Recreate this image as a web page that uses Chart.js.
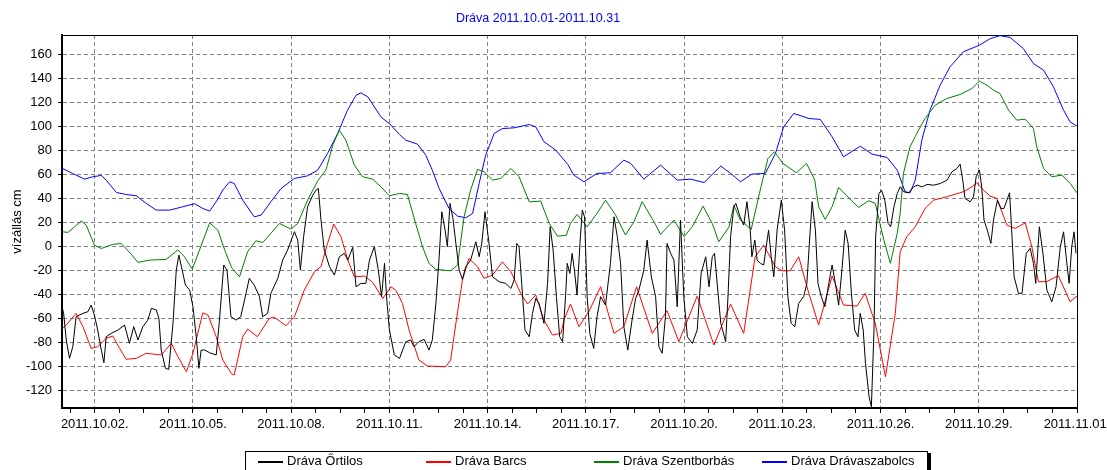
<!DOCTYPE html>
<html>
<head>
<meta charset="utf-8">
<title>Dráva 2011.10.01-2011.10.31</title>
<script src="https://cdn.jsdelivr.net/npm/chart.js@4.4.1/dist/chart.umd.min.js"></script>
<style>
  html, body { margin: 0; padding: 0; background: #fff; }
  #wrap { position: relative; width: 1107px; height: 470px; overflow: hidden;
          font-family: "Liberation Sans", Arial, sans-serif; }
  #chart { position: absolute; left: 0; top: 0; }
  #title { position: absolute; left: 0; top: 11px; width: 1076px; text-align: center;
           color: #0000ff; font-size: 12.5px; }
  #legend { position: absolute; left: 245px; top: 451px; width: 681px; height: 18px;
            border: 1px solid #000; box-shadow: 3px 2px 0 #000; background: #fff;
            font-size: 13px; white-space: nowrap; }
  #legend .item { position: absolute; top: 0; height: 18px; line-height: 18px; }
  #legend .swatch { position: absolute; left: 0; top: 9px; width: 25px; height: 0;
                    border-top: 2px solid transparent; }
  #legend .name { position: absolute; left: 29px; top: 0; }
</style>
</head>
<body>
<div id="wrap">
  <canvas id="chart" width="1107" height="470"></canvas>
  <div id="title">Dráva 2011.10.01-2011.10.31</div>
  <div id="legend"></div>
</div>
<script>
// napok 2011.10.01 00:00 óta, vízállás cm
const ortilos = [
  [0, -50.6], [0.05, -56], [0.13, -78.3], [0.23, -93.6], [0.33, -83.9], [0.43, -58.9], [0.64, -56.1],
  [0.79, -54.7], [0.89, -49.2], [0.99, -57.5], [1.09, -70], [1.2, -86.7], [1.28, -97.2], [1.35, -75.6],
  [1.5, -72.8], [1.71, -70], [1.91, -65.8], [2.06, -81.1], [2.19, -67.2], [2.32, -78.3], [2.47, -67.2],
  [2.62, -61.7], [2.73, -51.9], [2.88, -53.3], [2.96, -60.3], [3.03, -86.7], [3.16, -101.9], [3.26, -102.8],
  [3.39, -64.4], [3.49, -20], [3.57, -7.5], [3.67, -20], [3.77, -32.5], [3.9, -36.7], [4.0, -50.6],
  [4.1, -75.6], [4.18, -101.9], [4.25, -86.7], [4.36, -86.7], [4.51, -88.9], [4.71, -90.8], [4.81, -61.7],
  [4.94, -15.8], [5.04, -20], [5.16, -58.9], [5.31, -61.7], [5.46, -58.9], [5.62, -39.4], [5.72, -26.9],
  [5.87, -32.5], [6.03, -42.2], [6.13, -58.9], [6.28, -56.1], [6.38, -39.4], [6.59, -26.9], [6.74, -11.7],
  [6.89, -3.3], [7.1, 12], [7.2, 5], [7.28, -20], [7.38, 7.8], [7.5, 32.8], [7.66, 42.5], [7.76, 46.7],
  [7.83, 48], [7.91, 21.7], [8.01, -3.3], [8.17, -17.2], [8.32, -24.2], [8.47, -8.9], [8.62, -6.1],
  [8.73, -11.7], [8.88, -1.1], [8.98, -33.9], [9.13, -31.1], [9.28, -31.1], [9.39, -11.7], [9.54, -0.5],
  [9.66, -20], [9.76, -42.2], [9.85, -14.4], [9.92, -45], [10.0, -70], [10.15, -90.8], [10.31, -93.6],
  [10.5, -79.7], [10.65, -78.3], [10.75, -83.9], [10.9, -79.7], [11.06, -77.8], [11.21, -86.7], [11.31, -78.3],
  [11.42, -47.8], [11.52, -8.9], [11.6, 28.6], [11.7, 13.3], [11.77, -0.5], [11.85, 35.6], [11.94, 23.1],
  [12.03, 2.2], [12.13, -20], [12.23, -27.8], [12.33, -17.2], [12.48, -11.7], [12.64, 3.6], [12.74, -8.9],
  [12.82, 2.2], [12.92, 28.6], [13.03, 5], [13.15, -25.6], [13.35, -29.7], [13.55, -31.1], [13.71, -35.3],
  [13.81, -28.3], [13.89, 2.2], [13.96, -0.5], [14.04, -31.1], [14.14, -70], [14.27, -75.6], [14.37, -56.1],
  [14.47, -43.6], [14.57, -47.8], [14.72, -64.4], [14.83, -31.1], [14.91, 16.1], [15.0, -3.3], [15.1, -42.2],
  [15.2, -75.6], [15.29, -79.7], [15.39, -36.7], [15.43, -14.4], [15.51, -22.8], [15.58, -6.1], [15.65, -20],
  [15.73, -40.8], [15.82, 2.2], [15.89, 30], [15.96, 24.4], [16.04, -42.2], [16.12, -72.8], [16.24, -85.3],
  [16.34, -58.9], [16.45, -42.2], [16.6, -49.2], [16.75, -14.4], [16.86, 24.4], [16.96, 7.8], [17.06, -14.4],
  [17.16, -67.2], [17.28, -86.7], [17.41, -61.7], [17.52, -43.6], [17.62, -36.7], [17.77, -20], [17.87, 5],
  [18.0, -25.6], [18.13, -42.2], [18.23, -83.9], [18.33, -89.4], [18.43, -58.9], [18.48, 2.2], [18.59, -6.1],
  [18.69, -11.7], [18.79, -50.6], [18.89, 21.7], [18.99, -42.2], [19.1, -75.6], [19.25, -81.1], [19.4, -70],
  [19.52, -22.8], [19.66, -8.9], [19.76, -33.9], [19.86, -8.9], [19.93, -6.1], [20.01, -31.1], [20.12, -64.4],
  [20.27, -79.7], [20.34, -42.2], [20.42, 7.8], [20.52, 32.8], [20.58, 35.6], [20.71, 24.4], [20.82, 17.5],
  [20.92, 37], [21.02, 13.3], [21.07, -8.9], [21.16, 5], [21.23, -11.7], [21.33, -14.4], [21.43, -15.8],
  [21.58, 13.3], [21.66, -8.9], [21.74, -25.6], [21.84, 13.3], [21.97, 38.3], [22.07, 13.3], [22.17, -42.2],
  [22.27, -64.4], [22.38, -67.2], [22.5, -47.8], [22.65, -42.2], [22.75, -31.1], [22.82, -0.5], [22.91, 37],
  [23.01, 13.3], [23.09, -31.1], [23.19, -42.2], [23.3, -50.6], [23.42, -31.1], [23.52, -15.8], [23.62, -31.1],
  [23.72, -49.2], [23.82, -20], [23.92, 13.3], [24.01, 2.2], [24.11, -39.4], [24.21, -70], [24.31, -75.6],
  [24.38, -56.1], [24.47, -70], [24.54, -97.8], [24.65, -125.6], [24.72, -133.9], [24.8, -70], [24.85, 7.8],
  [24.95, 43.9], [25.03, 46.7], [25.13, 38.3], [25.23, 18.9], [25.31, 16.1], [25.41, 32.8], [25.51, 43.9],
  [25.6, 49.4], [25.71, 45.3], [25.86, 44.4], [26.01, 49.4], [26.12, 50.8], [26.27, 49.4], [26.42, 51.4],
  [26.62, 50.8], [26.83, 52.2], [27.03, 55], [27.18, 61.9], [27.33, 64.7], [27.43, 68.3], [27.51, 55],
  [27.58, 39.7], [27.74, 36.9], [27.84, 41.1], [27.92, 57.8], [28.02, 63.3], [28.09, 49.4], [28.16, 21.7],
  [28.26, 13.3], [28.37, 2.2], [28.45, 21.7], [28.57, 38.3], [28.68, 31.4], [28.77, 31.4], [28.86, 38.3],
  [28.94, 44.4], [29.01, 10.6], [29.08, -25.6], [29.21, -39.4], [29.32, -39.4], [29.45, -6.1], [29.57, -1.9],
  [29.67, -14.4], [29.74, -31.1], [29.85, 16.1], [29.96, -6.1], [30.08, -36.7], [30.23, -46.4], [30.36, -33.9],
  [30.49, -0.6], [30.59, 11.9], [30.69, -14.4], [30.76, -31.1], [30.84, -0.6], [30.91, 11.9], [30.97, -6.1]
];

const barcs = [
  [0, -69.2], [0.13, -65.8], [0.43, -56.1], [0.64, -67.2], [0.89, -85.3], [1.09, -83.9], [1.35, -76.9],
  [1.55, -75], [1.76, -85.3], [1.96, -94.4], [2.27, -93.6], [2.57, -89.4], [3.03, -90.8], [3.34, -81.1],
  [3.54, -92.2], [3.8, -104.7], [4.0, -89.4], [4.3, -55.6], [4.46, -57.5], [4.71, -75.6], [4.91, -95],
  [5.18, -106.5], [5.26, -107.5], [5.52, -75.6], [5.67, -69.2], [5.97, -75.6], [6.33, -60.3], [6.49, -59.4],
  [6.84, -66.4], [7.1, -58.9], [7.4, -36.7], [7.71, -21.4], [7.91, -17.2], [8.11, 2.2], [8.3, 18.3],
  [8.52, 7.8], [8.73, -11.7], [8.93, -25.6], [9.24, -25], [9.49, -30.3], [9.8, -43.6], [10.05, -33.9],
  [10.2, -37], [10.4, -47.8], [10.6, -70], [10.9, -95], [11.16, -100], [11.72, -100.6], [11.87, -95],
  [12.03, -64.4], [12.23, -28.3], [12.43, -10.3], [12.69, -17.2], [12.89, -26.9], [13.15, -24.2],
  [13.45, -13.1], [13.71, -21.4], [14.01, -39.4], [14.22, -48.3], [14.47, -40.8], [14.72, -61.7],
  [14.98, -74.2], [15.24, -72.8], [15.33, -61.7], [15.53, -48.3], [15.79, -67.2], [16.09, -54.7],
  [16.45, -33.9], [16.86, -72.8], [17.16, -67.2], [17.55, -33.9], [18.03, -72.8], [18.48, -53.9],
  [18.84, -79.7], [19.4, -41.7], [19.91, -82.5], [20.42, -48.3], [20.82, -72.8], [21.17, -8.9],
  [21.43, 0.8], [21.79, -17.2], [21.99, -20.6], [22.24, -20.6], [22.5, -8.9], [22.81, -39.4],
  [23.11, -65.8], [23.52, -25], [23.87, -49.2], [24.28, -50], [24.53, -39.4], [24.84, -64.4],
  [25.15, -108.9], [25.45, -56.1], [25.6, -4.7], [25.8, 7.8], [26.06, 16.1], [26.36, 31.4], [26.62, 38.3],
  [27.02, 41.1], [27.53, 45.3], [27.79, 49.4], [27.94, 52.8], [28.14, 46.7], [28.35, 41.7], [28.55, 39.7],
  [28.86, 17.5], [29.11, 14.7], [29.42, 19.4], [29.62, -0.6], [29.82, -29.7], [30.07, -29.7],
  [30.43, -24.7], [30.79, -46.4], [31, -41.7]
];

const szentborbas = [
  [0, 12], [0.18, 11.4], [0.38, 16], [0.59, 21], [0.74, 17.5], [0.99, 0.8], [1.2, -2], [1.55, 1.4],
  [1.81, 2.2], [2.11, -6.7], [2.32, -13.6], [2.67, -11.7], [3.18, -11.1], [3.54, -3.3], [3.74, -8.9],
  [3.98, -19.2], [4.2, -3.3], [4.51, 19.4], [4.76, 13.3], [4.97, -3.3], [5.18, -18], [5.42, -25.6],
  [5.67, -4.7], [5.92, 4.4], [6.13, 3], [6.38, 10.6], [6.64, 18.9], [6.99, 14.2], [7.2, 18.9],
  [7.5, 38.3], [7.81, 54.4], [8.06, 63.3], [8.27, 84.2], [8.47, 96.7], [8.67, 88.3], [8.93, 67.5],
  [9.18, 57.8], [9.49, 55.8], [9.74, 49.4], [10.0, 42], [10.31, 43.9], [10.55, 43], [10.8, 18.9],
  [11.01, -0.5], [11.21, -14.4], [11.41, -19.4], [11.87, -20.6], [12.08, -15.8], [12.28, 24.4],
  [12.48, 46.7], [12.69, 63.9], [12.89, 62], [13.15, 55], [13.4, 56.4], [13.71, 64.7], [13.96, 57.8],
  [14.27, 36.9], [14.62, 37.5], [14.88, 18.9], [15.13, 8.3], [15.4, 9], [15.53, 18.9], [15.73, 26.4],
  [16.04, 16.1], [16.34, 27.2], [16.6, 38.3], [16.91, 25.8], [17.21, 9.2], [17.47, 20.3], [17.72, 37],
  [18.08, 20.3], [18.28, 9.7], [18.69, 21.7], [19.0, 7.8], [19.25, 16.1], [19.58, 33.3], [19.86, 18.9],
  [20.06, 3.6], [20.37, 16], [20.52, 34], [20.71, 22], [21.05, 13.9], [21.3, 43.9], [21.56, 73],
  [21.76, 78.6], [22.02, 68.9], [22.43, 61.1], [22.74, 68.9], [22.99, 55], [23.11, 32.8], [23.31, 22.2],
  [23.52, 32.8], [23.72, 48.9], [23.97, 42], [24.33, 32.2], [24.64, 37.8], [24.84, 35.6], [25.1, 5],
  [25.3, -14.4], [25.51, 10.6], [25.6, 27.2], [25.7, 60.6], [25.9, 82.8], [26.16, 96.7], [26.36, 106.4],
  [26.67, 117.5], [27.02, 123], [27.43, 126.4], [27.79, 131.4], [28.02, 137.5], [28.25, 134.2],
  [28.45, 130], [28.65, 127.2], [28.91, 113.3], [29.16, 105], [29.42, 105.8], [29.67, 98], [29.77, 82.8],
  [29.98, 64.7], [30.23, 57.8], [30.54, 59.2], [30.79, 52.2], [31, 44.4]
];

const dravaszabolcs = [
  [0, 65], [0.32, 60.6], [0.69, 55.8], [0.94, 57.8], [1.2, 58.9], [1.35, 55], [1.66, 44.7], [1.96, 43],
  [2.27, 42], [2.57, 35.6], [2.88, 30], [3.29, 30], [3.69, 32.8], [4.05, 35.3], [4.3, 31.4], [4.51, 29.2],
  [4.71, 37], [4.91, 46.7], [5.12, 53.6], [5.26, 52.2], [5.52, 38.3], [5.87, 24.4], [6.08, 25.8],
  [6.38, 37], [6.69, 48], [7.1, 56.4], [7.5, 58.6], [7.81, 63.3], [8.11, 77.2], [8.42, 93.9],
  [8.72, 113.3], [8.98, 125.8], [9.13, 127.8], [9.34, 124.4], [9.54, 116], [9.74, 107.8], [10.05, 100.8],
  [10.31, 93], [10.5, 88.3], [10.86, 85], [11.11, 75.8], [11.31, 63.3], [11.52, 48], [11.82, 31.4],
  [12.08, 25], [12.33, 23.6], [12.54, 27.2], [12.74, 52.2], [12.94, 75.8], [13.2, 93.9], [13.45, 98],
  [13.81, 98.6], [14.27, 101.4], [14.47, 99.4], [14.72, 87], [15.08, 80], [15.45, 68], [15.63, 59.2],
  [15.94, 53.6], [16.34, 60.6], [16.75, 61.1], [17.16, 71.7], [17.37, 68.9], [17.77, 55.8], [18.28, 67.5],
  [18.79, 55], [19.2, 55.8], [19.61, 53], [20.12, 66.7], [20.42, 60.6], [20.58, 57], [20.72, 53.6],
  [21.07, 60], [21.48, 60.6], [21.79, 77.2], [22.04, 99.4], [22.35, 110.6], [22.81, 106.4], [23.16, 105.6],
  [23.52, 91.1], [23.87, 74.4], [24.38, 83.3], [24.74, 76.7], [25.2, 73.9], [25.51, 63.3], [25.75, 45.3],
  [25.9, 44.4], [26.06, 55], [26.26, 88.3], [26.51, 113.3], [26.82, 134.2], [27.12, 149.4], [27.53, 162],
  [28.02, 167.5], [28.35, 173], [28.65, 175.5], [28.96, 173.9], [29.36, 164.7], [29.67, 152.2],
  [29.98, 146.7], [30.28, 132.8], [30.59, 113.3], [30.79, 103.6], [31, 100]
];

const seriesNames = ['Dráva Őrtilos', 'Dráva Barcs', 'Dráva Szentborbás', 'Dráva Drávaszabolcs'];
const seriesColors = ['#000000', '#ff0000', '#008000', '#0000ff'];
const seriesPoints = [ortilos, barcs, szentborbas, dravaszabolcs];

const majorDays = [1, 4, 7, 10, 13, 16, 19, 22, 25, 28, 31];
const dateLabels = ['2011.10.02.', '2011.10.05.', '2011.10.08.', '2011.10.11.', '2011.10.14.',
  '2011.10.17.', '2011.10.20.', '2011.10.23.', '2011.10.26.', '2011.10.29.', '2011.11.01.'];
const levelTicks = [-120, -100, -80, -60, -40, -20, 0, 20, 40, 60, 80, 100, 120, 140, 160];

// kis osztások 18 óránként
const tickDays = [];
for (let d = 0.25; d <= 31; d += 0.75) tickDays.push(d);
const isMajor = v => majorDays.indexOf(v) >= 0;

// felső és jobb keret
const frameLines = {
  id: 'frameLines',
  beforeDatasetsDraw(chart) {
    const { ctx, chartArea: a } = chart;
    ctx.save();
    ctx.strokeStyle = '#000';
    ctx.lineWidth = 1;
    ctx.beginPath();
    ctx.moveTo(a.left, a.top + 0.5);
    ctx.lineTo(a.right + 0.5, a.top + 0.5);
    ctx.lineTo(a.right + 0.5, a.bottom);
    ctx.stroke();
    ctx.restore();
  }
};

Chart.defaults.font.family = '"Liberation Sans", Arial, sans-serif';
Chart.defaults.font.size = 13;
Chart.defaults.color = '#000';

new Chart(document.getElementById('chart'), {
  type: 'line',
  data: {
    datasets: seriesNames.map((name, i) => ({
      label: name,
      data: seriesPoints[i].map(p => ({ x: p[0], y: p[1] })),
      borderColor: seriesColors[i],
      backgroundColor: seriesColors[i],
      borderWidth: 1,
      pointRadius: 0,
      fill: false,
      tension: 0
    }))
  },
  options: {
    responsive: false,
    animation: false,
    devicePixelRatio: 1,
    layout: { padding: { top: 35, right: 30, left: 0, bottom: 0 } },
    plugins: {
      legend: { display: false },
      title: { display: false },
      tooltip: { enabled: false }
    },
    scales: {
      x: {
        type: 'linear',
        min: 0,
        max: 31,
        afterBuildTicks: s => { s.ticks = tickDays.map(v => ({ value: v })); },
        afterFit: s => { s.height = 62; s.paddingLeft = 0; s.paddingRight = 0; },
        ticks: {
          autoSkip: false,
          maxRotation: 0,
          padding: 4,
          callback: v => isMajor(v) ? dateLabels[majorDays.indexOf(v)] : ''
        },
        grid: {
          color: c => (c.tick && isMajor(c.tick.value)) ? '#808080' : 'rgba(0,0,0,0)',
          tickColor: '#000',
          tickLength: 5,
          tickBorderDash: [],
          lineWidth: 1
        },
        border: { color: '#000', width: 2, dash: [4, 3] }
      },
      y: {
        min: -135,
        max: 176,
        afterBuildTicks: s => { s.ticks = levelTicks.map(v => ({ value: v })); },
        afterFit: s => { s.width = 62; s.paddingTop = 0; s.paddingBottom = 0; },
        ticks: { padding: 6 },
        grid: { color: '#808080', tickColor: '#000', tickLength: 4, tickBorderDash: [], lineWidth: 1 },
        border: { color: '#000', width: 2, dash: [4, 3] },
        title: { display: true, text: 'vízállás cm', padding: { top: 10, bottom: 0 } }
      }
    }
  },
  plugins: [frameLines]
});

// jelmagyarázat
const legend = document.getElementById('legend');
seriesNames.forEach((name, i) => {
  const item = document.createElement('div');
  item.className = 'item';
  item.style.left = (12 + i * 168) + 'px';
  const sw = document.createElement('div');
  sw.className = 'swatch';
  sw.style.borderTopColor = seriesColors[i];
  const txt = document.createElement('div');
  txt.className = 'name';
  txt.textContent = name;
  item.appendChild(sw);
  item.appendChild(txt);
  legend.appendChild(item);
});
</script>
</body>
</html>
